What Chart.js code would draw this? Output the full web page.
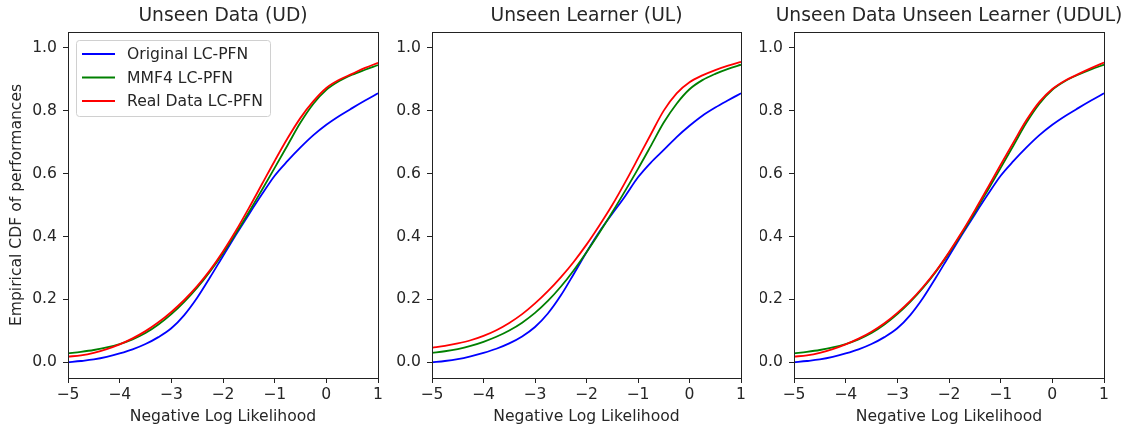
<!DOCTYPE html>
<html><head><meta charset="utf-8">
<script src="https://cdn.jsdelivr.net/npm/chart.js@4.4.1/dist/chart.umd.min.js"></script>
<style>
html,body{margin:0;padding:0;background:#fff;width:1129px;height:429px;overflow:hidden;position:relative}
canvas{position:absolute;top:0}
</style></head><body>
<canvas id="c1" width="390" height="429" style="left:0"></canvas>
<canvas id="c2" width="370" height="429" style="left:390px"></canvas>
<canvas id="c3" width="369" height="429" style="left:760px"></canvas>
<script>
const xs = [-5,-4.75,-4.5,-4.25,-4,-3.75,-3.5,-3.25,-3,-2.75,-2.5,-2.25,-2,-1.75,-1.5,-1.25,-1,-0.75,-0.5,-0.25,0,0.25,0.5,0.75,1];
const xTicks = [-5,-4,-3,-2,-1,0,1];
const yTicks = [0,0.2,0.4,0.6,0.8,1.0];
const seriesNames = ["Original LC-PFN","MMF4 LC-PFN","Real Data LC-PFN"];
const panelTitles = ["Unseen Data (UD)","Unseen Learner (UL)","Unseen Data Unseen Learner (UDUL)"];

const udOriginal = [0,0.004,0.009,0.017,0.028,0.041,0.058,0.08,0.108,0.15,0.205,0.27,0.338,0.405,0.47,0.533,0.593,0.64,0.683,0.722,0.755,0.783,0.808,0.832,0.855];
const udMMF4     = [0.028,0.033,0.039,0.047,0.058,0.073,0.093,0.12,0.153,0.192,0.237,0.289,0.347,0.41,0.477,0.547,0.618,0.69,0.762,0.822,0.866,0.894,0.914,0.93,0.945];
const udReal     = [0.018,0.022,0.03,0.042,0.057,0.076,0.099,0.127,0.16,0.198,0.242,0.293,0.352,0.418,0.49,0.565,0.64,0.712,0.777,0.83,0.872,0.898,0.917,0.936,0.952];

const ulOriginal = [0,0.004,0.01,0.019,0.03,0.043,0.06,0.082,0.112,0.155,0.212,0.28,0.35,0.415,0.472,0.528,0.588,0.635,0.675,0.716,0.752,0.784,0.81,0.833,0.855];
const ulMMF4     = [0.03,0.035,0.042,0.052,0.065,0.081,0.101,0.126,0.157,0.195,0.24,0.292,0.35,0.412,0.477,0.545,0.615,0.688,0.762,0.822,0.868,0.897,0.917,0.933,0.946];
const ulReal     = [0.046,0.052,0.06,0.07,0.084,0.102,0.125,0.153,0.187,0.226,0.27,0.319,0.374,0.435,0.5,0.572,0.648,0.725,0.8,0.855,0.89,0.912,0.929,0.943,0.955];

const udulOriginal = [0,0.004,0.009,0.017,0.028,0.041,0.058,0.08,0.108,0.15,0.205,0.27,0.338,0.405,0.47,0.533,0.593,0.64,0.683,0.722,0.755,0.783,0.808,0.832,0.855];
const udulMMF4     = [0.028,0.033,0.039,0.047,0.058,0.073,0.093,0.12,0.153,0.192,0.237,0.289,0.347,0.41,0.477,0.547,0.618,0.69,0.762,0.822,0.866,0.894,0.914,0.931,0.946];
const udulReal     = [0.018,0.022,0.03,0.042,0.057,0.075,0.097,0.124,0.157,0.195,0.24,0.291,0.35,0.414,0.483,0.555,0.628,0.7,0.77,0.828,0.869,0.896,0.916,0.935,0.953];

const colors = ['#0000ff','#008000','#ff0000'];
const FONT = "'DejaVu Sans', sans-serif";
const TXT = '#262626';

function pts(ys){ return xs.map((x,i)=>({x:x,y:ys[i]})); }
function fmtX(v){ return v<0 ? '\u2212'+Math.abs(v) : String(v); }

const framePlugin = {
  id:'frame',
  afterDatasetsDraw(chart){
    const a = chart.chartArea, ctx = chart.ctx;
    const o = chart.options.plugins.panel || {};
    ctx.save(); ctx.strokeStyle='#222'; ctx.lineWidth=1;
    ctx.strokeRect(Math.round(a.left)+0.5, Math.round(a.top)+0.5, Math.round(a.right-a.left), Math.round(a.bottom-a.top));
    ctx.font = '18.7px '+FONT; ctx.fillStyle = TXT; ctx.textAlign='center'; ctx.textBaseline='middle';
    ctx.fillText(o.title || '', (a.left+a.right)/2, 16.5);
    ctx.restore();
    if (o.legend) {
      const x0 = a.left+8, y0 = a.top+8, w = 194, h = 76;
      ctx.save();
      ctx.beginPath();
      if (ctx.roundRect) ctx.roundRect(x0+0.5,y0+0.5,w,h,3); else ctx.rect(x0+0.5,y0+0.5,w,h);
      ctx.fillStyle='rgba(255,255,255,0.85)'; ctx.fill();
      ctx.strokeStyle='#d0d0d0'; ctx.lineWidth=1; ctx.stroke();
      ctx.font = '15.6px '+FONT; ctx.textBaseline='middle'; ctx.textAlign='left';
      chart.data.datasets.forEach((ds,i)=>{
        const yy = y0 + 14 + i*23.5;
        ctx.strokeStyle = ds.borderColor; ctx.lineWidth = 2;
        ctx.beginPath(); ctx.moveTo(x0+6, yy); ctx.lineTo(x0+39, yy); ctx.stroke();
        ctx.fillStyle=TXT; ctx.fillText(ds.label, x0+51, yy+1);
      });
      ctx.restore();
    }
  }
};

function makeChart(id, title, series, opts){
  const ds = series.map((s,i)=>({label:seriesNames[i], data:pts(s), borderColor:colors[i], backgroundColor:colors[i],
      borderWidth:1.8, pointRadius:0, cubicInterpolationMode:'monotone', fill:false, order:2-i}));
  return new Chart(document.getElementById(id), {
    type:'line',
    data:{datasets:ds},
    plugins:[framePlugin],
    options:{
      responsive:false, animation:false, devicePixelRatio:1,
      layout:{padding:{left:0,right:opts.right,top:32,bottom:0}},
      plugins:{
        legend:{display:false}, tooltip:{enabled:false}, title:{display:false},
        panel:{title:title, legend:!!opts.legend}
      },
      scales:{
        x:{type:'linear', min:-5, max:1,
          afterBuildTicks(s){ s.ticks = xTicks.map(v=>({value:v})); },
          afterFit(s){ s.height = 51; },
          grid:{display:true, drawOnChartArea:false, drawTicks:true, tickLength:5, color:'#222'},
          border:{display:true, color:'#222', width:1},
          ticks:{color:TXT, font:{family:FONT,size:15.6}, padding:3, maxRotation:0, callback:(v)=>fmtX(v)},
          title:{display:true, text:'Negative Log Likelihood', color:TXT, font:{family:FONT,size:15.6}, padding:{top:2,bottom:3}}
        },
        y:{type:'linear', min:-0.05, max:1.05,
          afterBuildTicks(s){ s.ticks = yTicks.map(v=>({value:v})); },
          afterFit(s){ s.width = opts.left; },
          grid:{display:true, drawOnChartArea:false, drawTicks:true, tickLength:5, color:'#222'},
          border:{display:true, color:'#222', width:1},
          ticks:{color:TXT, font:{family:FONT,size:15.6}, padding:6, callback:(v)=>Number(v).toFixed(1)},
          title:{display:!!opts.ytitle, text:'Empirical CDF of performances', color:TXT, font:{family:FONT,size:15.6}, padding:{top:8,bottom:4}}
        }
      }
    }
  });
}

makeChart('c1', panelTitles[0], [udOriginal,udMMF4,udReal], {left:68, right:12, legend:true, ytitle:true});
makeChart('c2', panelTitles[1], [ulOriginal,ulMMF4,ulReal], {left:42, right:19});
makeChart('c3', panelTitles[2], [udulOriginal,udulMMF4,udulReal], {left:34, right:25});
</script>
</body></html>
